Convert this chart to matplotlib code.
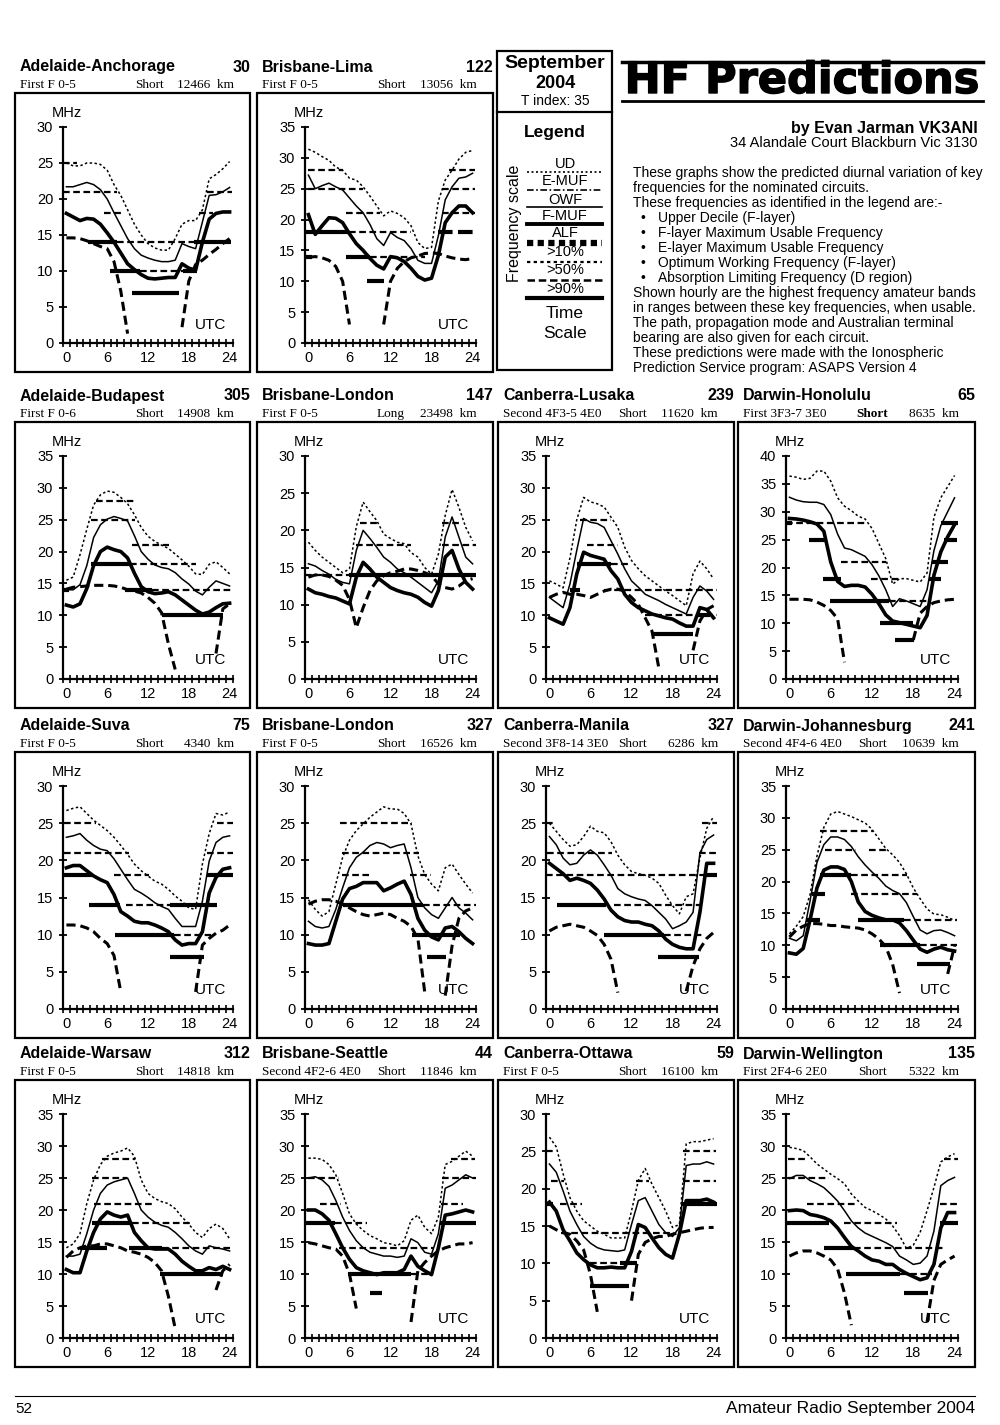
import numpy as np
import matplotlib
matplotlib.use("Agg")
import matplotlib.pyplot as plt
import matplotlib.patheffects as pe
from matplotlib.patches import Rectangle

plt.rcParams['font.family'] = ['Liberation Sans', 'DejaVu Sans']

nan = np.nan
hours = np.arange(25)

anc_ud = [25, 24.6, 24.6, 25, 25, 24.8, 24, 22, 20.5, 18.5, 16.5, 15, 13.8, 13.2, 12.9, 12.9, 14.5, 16.5, 17, 17, 18.5, 22.8, 23.4, 24.2, 25.2]
anc_muf = [21.7, 21.7, 22, 22.3, 22, 21.3, 20, 18.1, 16.3, 14.5, 13.1, 12.2, 11.8, 11.5, 11.3, 11.3, 11.5, 13.8, 13.4, 13.1, 16.8, 20.5, 20.6, 21, 21.6]
anc_owf = [18, 17.5, 17, 17.3, 17.2, 16.5, 15.3, 14, 12.5, 11, 10.2, 9.5, 9, 8.9, 9, 9.1, 9.1, 11, 10.4, 10.1, 14, 17.2, 18, 18.2, 18.2]
anc_alf = [14.6, 14.6, 14.5, 14.2, 13.8, 13.4, 13.1, 11.3, 7.2, 1.3, nan, nan, nan, nan, nan, nan, nan, 2.2, 8.6, 10.9, 11.5, 12.3, 13, 13.8, 14.5]
anc_bands = [(25, -0.5, 1.5, 'm'), (21, -0.5, 7.4, 'm'), (21, 20.7, 24.3, 'm'), (18, 5.5, 8, 'm'),
             (18, 19.5, 21.5, 'm'), (14, 3.2, 7.4, 's'), (14, 7.4, 18.7, 'm'), (14, 18.7, 24.2, 's'),
             (10, 6.4, 10.8, 's'), (10, 10.8, 17.2, 'm'), (10, 17.2, 19.2, 's'), (7, 9.6, 16.5, 's')]

lim_ud = [31.4, 30.9, 30.2, 29.6, 28.5, 28, 26.7, 26.4, 25.3, 23.8, 22.2, 20.6, 21.4, 21, 20.3, 19, 16.3, 15.3, 15.5, 23, 26.4, 28, 29.8, 30.9, 31.2]
lim_muf = [27.2, 25, 25.5, 25.9, 25.3, 24.8, 23.5, 22.2, 21.1, 19.2, 16.9, 15.8, 17.9, 17.1, 16.6, 15.3, 13.4, 12.9, 12.9, 17.4, 23.2, 25.3, 26.7, 26.9, 27.5]
lim_owf = [20.8, 17.6, 19, 20.3, 20.2, 19.5, 17.7, 16.1, 15, 13.7, 12.6, 12, 14, 13.8, 13.2, 12.1, 10.8, 10.2, 10.5, 14.2, 19.5, 21.1, 22.2, 22.2, 21.1]
lim_alf = [13.9, 14, 13.8, 13.4, 12.4, 10, 3, nan, nan, nan, nan, 3, 10, 12.1, 13.2, 13.8, 14.1, 14.5, 14.6, 14.5, 14.1, 13.8, 13.6, 13.5, 13.7]
lim_bands = [(28, 0, 5, 'm'), (28, 20.5, 24.3, 'm'), (25, 0, 8, 'm'), (25, 19.5, 24.3, 'm'),
             (21, 5.5, 10.5, 'm'), (21, 19.5, 24.3, 'm'), (18, -0.5, 6, 's'), (18, 6, 15, 'm'),
             (18, 19, 24.5, 'L'), (14, -0.5, 0.5, 's'), (14, 5.5, 9, 's'), (14, 9, 17, 'm'), (10, 8.5, 11, 's')]

bud_ud = [15.5, 16, 19.5, 23.5, 27.3, 28.9, 29.5, 29.3, 28.5, 27.5, 25.8, 23.8, 22.4, 21.6, 21, 20.5, 19.6, 18.7, 17.7, 16.5, 16.4, 18, 18.4, 17.5, 16.5]
bud_muf = [14, 14, 14.8, 17.8, 22.2, 24.2, 25.1, 25.5, 25.2, 24.8, 22.5, 20, 18.8, 17.9, 17.5, 17.3, 16.7, 15.7, 14.9, 13.8, 13.2, 14.4, 15.4, 15, 14.6]
bud_owf = [11.6, 11.3, 11.8, 14.2, 17.8, 20, 20.7, 20.3, 20, 19, 16.6, 14.5, 13.7, 13.4, 13.5, 13.7, 13.2, 12.4, 11.6, 10.8, 10.2, 10.5, 11.2, 11.8, 11.9]
bud_alf = [14.1, 14.4, 14.5, 14.6, 14.7, 14.7, 14.7, 14.6, 14.4, 14, 13.8, 13.5, 12.8, 11.9, 10.4, 5.5, 1.5, nan, nan, nan, nan, nan, 4, 11, 11.8]
bud_bands = [(28, 4.4, 9.9, 'm'), (25, 3.6, 10.1, 'm'), (21, 9.6, 15.1, 'm'), (18, 3.6, 9.4, 's'),
             (18, 9.4, 19.1, 'm'), (14, -0.5, 0.4, 's'), (14, 8.6, 12.6, 's'), (14, 12.6, 24.5, 'm'),
             (10, 14.1, 23.1, 's')]

lon1_ud = [18.4, 17.3, 16.4, 15.7, 15, 14.3, 14.8, 20.5, 23.8, 22.5, 21.3, 19.5, 18.9, 18.4, 18.2, 17, 16.4, 15, 14.1, 16.8, 22, 25.5, 23.1, 20.4, 18.6]
lon1_muf = [15.5, 15.2, 14.6, 14.1, 13.4, 13, 12.8, 17.3, 20, 18.9, 17.7, 16.4, 15.7, 14.8, 14.3, 13.7, 13, 12.3, 11.6, 13.2, 19.1, 21.8, 19.1, 16.4, 15.5]
lon1_owf = [12.1, 11.6, 11.4, 11.1, 10.9, 10.5, 10.1, 13.7, 15.7, 14.8, 13.7, 13, 12.3, 11.9, 11.6, 11.4, 11, 10.3, 9.8, 11.9, 16.4, 17.3, 14.8, 13, 12.1]
lon1_alf = [13.7, 14, 14, 13.8, 13.3, 12.6, 10.7, 6.9, 9.6, 11.9, 13.2, 13.9, 14.3, 14.5, 14.8, 14.8, 14.6, 14.3, 13.9, 12.8, 12.3, 12.1, 12.5, 13.2, 13.5]
lon1_bands = [(21, 7.5, 10, 'm'), (21, 19.5, 22, 'm'), (18, 7, 15, 'm'), (18, 19.5, 24.5, 'm'),
              (14, -0.5, 6, 'm'), (14, 6, 24.5, 's')]

lus_ud = [15.4, 14.9, 14.3, 19, 25, 28.5, 27.8, 27.5, 27, 25.4, 23.8, 20.7, 18.6, 17.3, 16.2, 15.4, 14.6, 13.8, 13.1, 12.3, 11.5, 16.5, 18.5, 17.3, 15.7]
lus_muf = [12.8, 12, 11.2, 14.9, 20.2, 25.2, 24.6, 24.4, 23.8, 21.7, 19.6, 17.3, 15.4, 14.4, 13.3, 12.8, 12.3, 11.7, 11.2, 10.7, 10.2, 12.8, 14.6, 13.8, 12.5]
lus_owf = [9.6, 9.1, 8.6, 11.2, 16.5, 19.9, 19.4, 19.1, 18.8, 17, 15.7, 13.3, 12, 11.2, 10.7, 10.2, 9.9, 9.6, 9.4, 8.8, 8.3, 8.3, 11.2, 10.9, 9.6]
lus_alf = [12.8, 13.3, 13.6, 13.3, 13.3, 13.1, 12.8, 13.3, 13.8, 14.1, 14.1, 13.8, 12.8, 11.7, 9.6, 7.5, 1.7, nan, nan, nan, nan, 4.5, 9.1, 10.9, 11.5]
lus_bands = [(25, 4.5, 9, 'm'), (21, 5.5, 10, 'm'), (18, 4, 9, 's'), (18, 9, 11.5, 'm'), (14, 3, 4.5, 's'),
             (14, 8, 24.5, 'm'), (10, 14, 24.5, 'm'), (10, 21.5, 23.5, 's'), (7, 15, 21, 's')]

hon_ud = [36.4, 36.2, 35.8, 36, 37.3, 37.3, 35.5, 32.5, 31, 30.2, 29.2, 28.7, 27, 24.3, 21.6, 17, 18, 18, 17.7, 17.4, 19, 29, 32.5, 34.5, 36.5]
hon_muf = [32.6, 32.1, 31.8, 31.7, 31.7, 31.3, 29.5, 26, 23.5, 23.2, 22.6, 22, 20.5, 18.5, 16, 13, 14.4, 14, 13.5, 13, 16, 23, 27.5, 30, 32.5]
hon_owf = [28.8, 28.7, 28.5, 28.2, 27.8, 26.5, 21, 17.5, 16.6, 16.8, 16.8, 16.5, 15.2, 13.5, 11.5, 10.4, 10.1, 9.8, 9.5, 9.2, 11.4, 18.6, 22.8, 25.5, 27.7]
hon_alf = [14.3, 14.3, 14.3, 14.2, 13.8, 13.2, 12.3, 10.8, 3, nan, nan, nan, nan, nan, nan, nan, nan, nan, 7, 11.8, 13, 13.7, 14, 14.2, 14.3]
hon_bands = [(28, -0.5, 11.3, 'm'), (28, -0.5, 0.4, 's'), (28, 22, 24.5, 's'), (25, 2.8, 5.4, 's'),
             (25, 22.4, 24.3, 's'), (21, 7.5, 14.1, 'm'), (21, 20.7, 23.1, 's'), (18, 4.9, 7.5, 's'),
             (18, 11.8, 16, 'm'), (18, 20.3, 22.1, 's'), (14, 5.9, 14.4, 's'), (14, 14.4, 20, 'm'),
             (10, 13.2, 17.9, 's'), (7, 15.3, 18.1, 's')]

suv_ud = [26.7, 27, 27.2, 26.3, 25.4, 24.7, 24, 23.1, 22, 20.8, 19.5, 18.6, 17.9, 17.2, 16.8, 16.1, 15.2, 14.5, 13.6, 13.4, 19.5, 23.6, 26.3, 26.1, 26.5]
suv_muf = [23.1, 23.3, 23.6, 22.7, 22, 21.5, 21.3, 20.2, 18.8, 17.4, 16.1, 15.6, 15, 14.3, 13.8, 13.4, 12.2, 11.1, 11.1, 11.1, 14.5, 19.9, 22.4, 23.1, 23.3]
suv_owf = [19, 19.3, 19.3, 18.6, 17.9, 17.4, 17, 15.4, 13.1, 12.5, 11.8, 11.6, 11.6, 11.3, 10.9, 10.4, 9.3, 8.6, 8.8, 8.8, 10.4, 15.6, 17.7, 18.8, 19]
suv_alf = [11.3, 11.3, 11.2, 10.9, 10.4, 9.5, 8.8, 7.2, 2.3, nan, nan, nan, nan, nan, nan, nan, nan, nan, nan, 2.3, 8.6, 9.5, 10.2, 10.6, 11.3]
suv_bands = [(25, -0.4, 4.3, 'm'), (25, 22.2, 24.5, 'm'), (21, -0.4, 9.2, 'm'), (21, 20.7, 24.5, 'm'),
             (18, -0.5, 3.8, 's'), (18, 7, 12.1, 'm'), (18, 20.7, 24.5, 's'), (14, 3.3, 7.9, 's'),
             (14, 8.7, 15.3, 'm'), (14, 15.3, 22.2, 's'), (10, 7.2, 15.8, 's'), (10, 15.8, 21.2, 'm'),
             (7, 15.3, 20.2, 's')]

lon2_ud = [14.7, 13.4, 12.5, 13.1, 16.8, 20.4, 22.7, 24, 24.9, 25.8, 26.5, 27.2, 26.9, 26.9, 26.3, 24.9, 20.6, 18.1, 16.8, 15.9, 19, 19.5, 18.1, 16.8, 15.6]
lon2_muf = [11.8, 11.1, 10.9, 11.1, 13.4, 16.3, 19, 20.4, 21.1, 22, 22.4, 22.2, 21.7, 22, 22.2, 19, 15, 13.6, 12.7, 12.2, 13.6, 15, 13.6, 12.9, 12]
lon2_owf = [8.8, 8.6, 8.6, 8.8, 11.8, 14.8, 16.2, 16.5, 17, 17, 17, 15.9, 16.3, 16.8, 17.2, 15.4, 12.2, 10.6, 9.7, 9.3, 10.9, 11.1, 10.4, 9.5, 8.8]
lon2_alf = [14.1, 14.5, 14.7, 14.7, 14.5, 14.1, 13.6, 13.1, 12.7, 12.5, 12.7, 12.9, 12.7, 12.2, 11.8, 11.1, 9.5, 2.3, nan, nan, 1.8, 8.5, 12.2, 13.2, 13.6]
lon2_bands = [(25, 4.6, 15.2, 'm'), (21, 4.9, 16.2, 'm'), (18, 4.9, 8.8, 'm'), (18, 14.9, 17.9, 'm'),
              (14, 5.1, 16.7, 's'), (14, 16.7, 24.5, 'm'), (10, 15.2, 22.1, 's'), (7, 17.4, 20.1, 's')]

man_ud = [25, 23.9, 22.8, 21.9, 22.1, 23.2, 24.6, 23.9, 23.7, 22.5, 20.7, 19.4, 18.5, 18.2, 18, 17.6, 16.9, 15.3, 13.9, 12.8, 15.1, 15.5, 20.3, 24.3, 25.9]
man_muf = [23.2, 22.1, 20.3, 19.4, 19.6, 20.7, 21.4, 20.7, 19.4, 18, 16.2, 15.5, 15.1, 14.8, 14.6, 13.9, 13, 12.1, 10.8, 11.2, 11.7, 13, 21, 22.8, 23.4]
man_owf = [19.6, 18.9, 18.2, 17.3, 17.6, 17.3, 16.9, 16, 14.8, 13.3, 12.4, 11.9, 11.7, 11.7, 11.4, 11.2, 10.5, 9.4, 8.7, 8.3, 8.1, 8.1, 13, 19.6, 19.6]
man_alf = [10.5, 11, 11.2, 11.4, 11.2, 11, 10.5, 9.9, 8.7, 6.7, 2.2, nan, nan, nan, nan, nan, nan, nan, nan, nan, 2.4, 5.8, 8.1, 9.5, 10.3]
man_bands = [(25, -0.5, 0.6, 'm'), (25, 22.3, 24.5, 'm'), (21, -0.4, 9.2, 'm'), (21, 21.8, 24.5, 'm'),
             (18, -0.5, 24.5, 'm'), (18, 22.8, 24.5, 's'), (14, 1.1, 8.2, 's'), (14, 9.4, 22.3, 'm'),
             (10, 8, 16.8, 's'), (10, 16.8, 22.5, 'm'), (7, 15.9, 21.8, 's')]

joh_ud = [11.8, 13, 14.5, 18, 24, 28.5, 30.6, 31, 30.6, 30.2, 29.7, 29.2, 28.2, 26.7, 25.2, 24.2, 23, 21.2, 19, 17.3, 15.7, 14.9, 14.8, 14.4, 13.9]
joh_muf = [11.1, 10.7, 11.5, 17, 23, 25.8, 27, 27, 26.6, 25.5, 23.9, 22.6, 21.5, 20.5, 19.3, 18.6, 18.1, 16.7, 14.5, 12.4, 11.8, 12.3, 12.4, 12, 11.5]
joh_owf = [8.8, 8.6, 9.5, 14, 19, 21.8, 22.3, 22.3, 21.9, 20, 16.8, 15.3, 14.7, 14.3, 14, 14, 13.5, 12.3, 10.8, 9.4, 8.9, 9.4, 9.7, 9.3, 9.1]
joh_alf = [11.3, 12.4, 13, 13.4, 13.4, 13.3, 13.1, 13.1, 12.9, 12.8, 12.7, 12.4, 11.8, 11, 9.8, 7, 2.5, nan, nan, nan, nan, nan, nan, 5.5, 9.9]
joh_bands = [(28, 4.5, 12.1, 'm'), (25, 5.2, 9.7, 'm'), (25, 11.6, 14.5, 'm'), (21, 4.5, 9, 's'),
             (21, 9, 17.1, 'm'), (18, 3.3, 5.2, 's'), (18, 9, 18.5, 'm'), (14, 2.4, 4.5, 's'),
             (14, 10, 16.6, 's'), (14, 16.6, 24.3, 'm'), (10, 13.1, 19, 's'), (10, 19, 24.3, 'm'),
             (7, 18.5, 23.3, 's')]

war_ud = [14.1, 14.7, 16.3, 21, 24.7, 27.1, 28.4, 28.9, 29.2, 29.7, 28.4, 24.7, 22.6, 21.8, 21.3, 21, 20.2, 18.9, 17.8, 16.5, 15.7, 17.1, 17.8, 17.1, 15.5]
war_muf = [12.8, 12.8, 13.1, 16.3, 20, 22.6, 23.9, 24.4, 24.7, 25, 22.6, 20, 18.9, 18.1, 17.6, 17.3, 16.5, 15.5, 14.4, 13.6, 13.1, 14.4, 14.1, 13.9, 13.6]
war_owf = [10.7, 10.2, 10.2, 13.6, 16.5, 18.6, 19.7, 19.2, 18.9, 19.2, 16.5, 15.2, 14.1, 13.9, 13.9, 13.9, 13.1, 12, 11.2, 10.5, 10.5, 11, 10.7, 11.2, 10.7]
war_alf = [12.6, 13.6, 14.1, 14.4, 14.4, 14.7, 14.7, 14.4, 14.1, 13.6, 13.4, 13.1, 12.6, 11.8, 10.5, 6.5, 1.5, nan, nan, nan, nan, nan, 7.5, 10.5, 11.5]
war_bands = [(28, 5.2, 10.1, 'm'), (25, 3.8, 8.9, 'm'), (21, 4, 12.8, 'm'), (18, 3.8, 9.6, 's'),
             (18, 9.6, 18.2, 'm'), (14, 2, 6, 's'), (14, 9.2, 14.1, 's'), (14, 14.1, 24.5, 'm'),
             (10, 13.8, 23.1, 's')]

sea_ud = [28.1, 28.1, 27.9, 27.1, 25.5, 22.6, 19.4, 17.8, 16.8, 16, 15.5, 14.9, 14.7, 14.4, 15.2, 18.4, 19.2, 17.3, 16.3, 18.9, 27.1, 27.6, 28.4, 29.2, 28.4]
sea_muf = [25, 25.2, 24.7, 23.7, 21.5, 18.9, 16.8, 15.2, 14.1, 13.4, 13.1, 12.8, 12.8, 12.6, 12.8, 15.5, 14.9, 13.4, 13.1, 16.3, 23.4, 23.9, 24.7, 25.5, 25]
sea_owf = [20, 20, 19.4, 18.4, 16.3, 14.1, 12.3, 11, 10.5, 10.2, 9.9, 10.2, 10.2, 10.2, 10.7, 12.8, 11.2, 10.5, 9.9, 14.1, 19.2, 19.4, 19.7, 20, 19.7]
sea_alf = [14.9, 14.7, 14.4, 14.1, 13.9, 12.8, 10, 4.6, nan, nan, nan, nan, nan, nan, nan, 2.5, 10.5, 11.8, 12.8, 13.6, 14.1, 14.4, 14.7, 14.7, 14.9]
sea_bands = [(28, 20.9, 24.3, 'm'), (25, 0, 4.4, 'm'), (25, 19.6, 24.5, 'm'), (21, 1.7, 4.8, 'm'),
             (21, 19.4, 22.6, 'm'), (18, -0.5, 3.9, 's'), (18, 3.9, 8.5, 'm'), (18, 19.2, 24.5, 's'),
             (14, 4.4, 18.2, 'm'), (10, 5.8, 15, 's'), (10, 15, 18.2, 'm'), (7, 9, 10.7, 's')]

ott_ud = [26.9, 25.6, 22, 18.8, 17, 15.7, 15, 14.3, 13.9, 13.4, 13.4, 13.4, 17, 21.1, 22.7, 20.6, 18.8, 17, 14.8, 15.2, 26, 26.3, 26.3, 26.5, 26.7]
ott_muf = [23.3, 22.2, 19.7, 17, 15.2, 13.6, 12.7, 12.1, 11.8, 11.7, 11.6, 11.8, 15.2, 18.4, 18.8, 17, 15.2, 14.1, 13.6, 14.8, 23.1, 23.3, 23.3, 23.6, 23.3]
ott_owf = [18.2, 17, 14.5, 13, 11.4, 10.5, 9.8, 9.4, 9.4, 9.5, 9.4, 9.4, 11.6, 15.2, 14.8, 13.4, 12.1, 11.2, 10.7, 13.9, 18.4, 18.4, 18.4, 18.6, 18.2]
ott_alf = [15, 14.5, 14.1, 13.9, 13, 11.8, 8.5, 3.5, nan, nan, nan, nan, 5, 11.2, 12.8, 13.3, 13.6, 13.6, 13.9, 14.1, 14.3, 14.5, 14.7, 14.8, 14.8]
ott_bands = [(25, -0.5, 1, 'm'), (25, 19.5, 24.4, 'm'), (21, 0.2, 2.2, 'm'), (21, 12.6, 14.5, 'm'),
             (21, 19.5, 24.4, 'm'), (18, -0.5, 0.5, 's'), (18, 1.5, 4.7, 'm'), (18, 19.2, 24.5, 's'),
             (14, 1.7, 18.2, 'm'), (10, 5.9, 10.3, 'm'), (10, 10.3, 12.8, 's'), (7, 5.9, 11.6, 's')]

wel_ud = [29.8, 29.6, 29.3, 28.3, 27.2, 26.4, 25.6, 24.9, 24.1, 22.5, 21.4, 20.4, 19.9, 19.3, 18.6, 17.5, 16, 14, 14.5, 16.5, 19.9, 23.5, 27.5, 28.3, 28.8]
wel_muf = [24.9, 25.4, 25.4, 24.6, 24.1, 23.5, 22.5, 21.4, 19.9, 18.3, 17.2, 16.4, 15.9, 15.4, 14.9, 14.3, 12.8, 12.2, 11.5, 11.7, 12.8, 16.7, 23.8, 24.6, 25.1]
wel_owf = [19.9, 20, 19.9, 19.3, 19.1, 18.8, 18.3, 17.2, 15.7, 14.3, 13.6, 12.8, 12.2, 12, 11.5, 11.5, 10.7, 10.1, 9.6, 9.1, 9.4, 11.5, 17.2, 19.6, 19.6]
wel_alf = [12.8, 13.3, 13.6, 13.6, 13.3, 12.8, 12.2, 10.8, 7, 2, nan, nan, nan, nan, nan, nan, nan, nan, nan, nan, 2.5, 9, 11.5, 12.2, 12.8]
wel_bands = [(28, -0.2, 2.2, 'm'), (28, 22.4, 24.5, 'm'), (25, -0.2, 5.8, 'm'), (21, 2.6, 9.6, 'm'),
             (21, 21.9, 24.3, 'm'), (18, -0.5, 5.8, 's'), (18, 7.9, 15.6, 'm'), (18, 21.9, 24.5, 's'),
             (14, 5, 9.4, 's'), (14, 9.4, 22.4, 'm'), (10, 8.2, 16.1, 's'), (10, 16.1, 20.7, 'm'),
             (7, 16.6, 20.2, 's')]

circuits = ["Adelaide-Anchorage", "Brisbane-Lima", "Adelaide-Budapest", "Brisbane-London",
            "Canberra-Lusaka", "Darwin-Honolulu", "Adelaide-Suva", "Brisbane-London",
            "Canberra-Manila", "Darwin-Johannesburg", "Adelaide-Warsaw", "Brisbane-Seattle",
            "Canberra-Ottawa", "Darwin-Wellington"]
bearings = [30, 122, 305, 147, 239, 65, 75, 327, 327, 241, 312, 44, 59, 135]
modes = ["First F 0-5", "First F 0-5", "First F 0-6", "First F 0-5", "Second 4F3-5 4E0",
         "First 3F3-7 3E0", "First F 0-5", "First F 0-5", "Second 3F8-14 3E0", "Second 4F4-6 4E0",
         "First F 0-5", "Second 4F2-6 4E0", "First F 0-5", "First 2F4-6 2E0"]
paths = ["Short", "Short", "Short", "Long", "Short", "Short", "Short", "Short", "Short", "Short",
         "Short", "Short", "Short", "Short"]
distances = [12466, 13056, 14908, 23498, 11620, 8635, 4340, 16526, 6286, 10639, 14818, 11846, 16100, 5322]
ymaxes = [30, 35, 35, 30, 35, 40, 30, 30, 30, 35, 35, 35, 30, 35]

series = [(anc_ud, anc_muf, anc_owf, anc_alf, anc_bands), (lim_ud, lim_muf, lim_owf, lim_alf, lim_bands),
          (bud_ud, bud_muf, bud_owf, bud_alf, bud_bands), (lon1_ud, lon1_muf, lon1_owf, lon1_alf, lon1_bands),
          (lus_ud, lus_muf, lus_owf, lus_alf, lus_bands), (hon_ud, hon_muf, hon_owf, hon_alf, hon_bands),
          (suv_ud, suv_muf, suv_owf, suv_alf, suv_bands), (lon2_ud, lon2_muf, lon2_owf, lon2_alf, lon2_bands),
          (man_ud, man_muf, man_owf, man_alf, man_bands), (joh_ud, joh_muf, joh_owf, joh_alf, joh_bands),
          (war_ud, war_muf, war_owf, war_alf, war_bands), (sea_ud, sea_muf, sea_owf, sea_alf, sea_bands),
          (ott_ud, ott_muf, ott_owf, ott_alf, ott_bands), (wel_ud, wel_muf, wel_owf, wel_alf, wel_bands)]

legend_labels = ["UD", "E-MUF", "OWF", "F-MUF", "ALF", ">10%", ">50%", ">90%"]
notes = ["These graphs show the predicted diurnal variation of key",
         "frequencies for the nominated circuits.",
         "These frequencies as identified in the legend are:-",
         "\u2022Upper Decile (F-layer)",
         "\u2022F-layer Maximum Usable Frequency",
         "\u2022E-layer Maximum Usable Frequency",
         "\u2022Optimum Working Frequency (F-layer)",
         "\u2022Absorption Limiting Frequency (D region)",
         "Shown hourly are the highest frequency amateur bands",
         "in ranges between these key frequencies, when usable.",
         "The path, propagation mode and Australian terminal",
         "bearing are also given for each circuit.",
         "These predictions were made with the Ionospheric",
         "Prediction Service program: ASAPS Version 4"]

W, H = 1000, 1425
fig = plt.figure(figsize=(10, 14.25), dpi=100)
fig.patch.set_facecolor('white')


def fx(x):
    return x / W


def fy(y):
    return 1 - y / H


def frame(x0, y0, x1, y1, lw=1.6):
    fig.patches.append(Rectangle((fx(x0), fy(y1)), (x1 - x0) / W, (y1 - y0) / H,
                                 transform=fig.transFigure, fill=False, lw=lw, ec='black'))


def hline(x0, x1, y, **kw):
    fig.add_artist(plt.Line2D([fx(x0), fx(x1)], [fy(y), fy(y)], transform=fig.transFigure,
                              color='black', **kw))


band_style = {'m': dict(lw=1.6, ls=(0, (3, 1.6))),
              's': dict(lw=3.0, ls='-'),
              'L': dict(lw=3.0, ls=(0, (3.5, 1.3)))}

serif = ['Liberation Serif', 'DejaVu Serif']


def draw_chart(k, bx0, by0, bx1, by1):
    ud, muf, owf, alf, bands = series[k]
    frame(bx0, by0, bx1, by1)
    fig.text(fx(bx0 + 5), fy(by0 - 26), circuits[k], fontsize=11.5, fontweight='bold', ha='left', va='center')
    fig.text(fx(bx1), fy(by0 - 26), str(bearings[k]), fontsize=11.5, fontweight='bold', ha='right', va='center')
    fig.text(fx(bx0 + 5), fy(by0 - 8), modes[k], family=serif, fontsize=9.5, ha='left', va='center')
    fig.text(fx(bx0 + 134), fy(by0 - 8), paths[k], family=serif, fontsize=9.5, ha='center', va='center',
             fontweight='bold' if k == 5 else 'normal')
    fig.text(fx(bx1 - 16), fy(by0 - 8), f"{distances[k]}  km", family=serif, fontsize=9.5,
             ha='right', va='center')

    left, right = bx0 + 48, bx1 - 17
    top, bottom = by0 + 34, by1 - 29
    ax = fig.add_axes([fx(left), fy(bottom), (right - left) / W, (bottom - top) / H])
    ax.patch.set_visible(False)
    ax.set_xlim(-0.5, 24.5)
    ax.set_ylim(0, ymaxes[k])
    for s in ('top', 'right'):
        ax.spines[s].set_visible(False)
    for s in ('left', 'bottom'):
        ax.spines[s].set_linewidth(1.6)

    for lvl, h0, h1, kind in bands:
        ax.plot([h0, h1], [lvl, lvl], color='black', solid_capstyle='butt',
                dash_capstyle='butt', **band_style[kind])
    ax.plot(hours, ud, color='black', lw=1.1, ls=(0, (1.6, 1.6)))
    ax.plot(hours, muf, color='black', lw=1.1)
    ax.plot(hours, owf, color='black', lw=2.6)
    ax.plot(hours, alf, color='black', lw=2.2, ls=(0, (3, 1.6)))

    ax.set_xticks([0, 6, 12, 18, 24])
    ax.set_xticks(np.arange(-0.5, 25, 1), minor=True)
    ax.tick_params(axis='x', which='major', length=0, pad=6, labelsize=10.5)
    ax.tick_params(axis='x', which='minor', direction='inout', length=6, width=1.2)
    ax.set_yticks(np.arange(0, ymaxes[k] + 1, 5))
    ax.tick_params(axis='y', direction='inout', length=6, width=1.3, pad=4, labelsize=10.5)

    ax.annotate('MHz', xy=(0, 1), xycoords='axes fraction', xytext=(3, 10),
                textcoords='offset points', ha='center', va='center', fontsize=10.5)
    ax.text(0.87, 0.085, 'UTC', transform=ax.transAxes, ha='center', va='center', fontsize=11)


cols = [(15, 250), (257, 493), (498, 734), (738, 975)]
rows = [(93, 372), (422, 708), (752, 1038), (1080, 1367)]
slots = [(0, 0), (0, 1)] + [(r, c) for r in (1, 2, 3) for c in range(4)]
for k, (r, c) in enumerate(slots):
    draw_chart(k, cols[c][0], rows[r][0], cols[c][1], rows[r][1])

# legend box
frame(497, 51, 612, 370)
hline(497, 612, 112, lw=1.6)
fig.text(fx(555), fy(64), "September", fontsize=14, fontweight='bold', ha='center', va='center')
fig.text(fx(555), fy(83), "2004", fontsize=13, fontweight='bold', ha='center', va='center')
fig.text(fx(555), fy(101), "T index: 35", fontsize=10, ha='center', va='center')
fig.text(fx(555), fy(132), "Legend", fontsize=12.5, fontweight='bold', ha='center', va='center')
fig.text(fx(514), fy(223), "Frequency scale", fontsize=11.5, rotation=90, ha='center', va='center')
legend_styles = [dict(lw=1.2, ls=(0, (1.2, 1.5))), dict(lw=1.2, ls=(0, (4, 1.5, 1, 1.5))),
                 dict(lw=1.2, ls='-'), dict(lw=2.8, ls='-'), dict(lw=4.5, ls=(0, (1, 0.7))),
                 dict(lw=1.6, ls=(0, (1.5, 1.5))), dict(lw=1.8, ls=(0, (3, 1.5))), dict(lw=3, ls='-')]
label_y = [164, 181, 200, 216, 233, 252, 270, 289]
line_y = [172, 190, 207, 224, 243, 262, 280, 298]
for lab, ly, sy, st in zip(legend_labels, label_y, line_y, legend_styles):
    fig.text(fx(565), fy(ly), lab, fontsize=10.5, ha='center', va='center')
    hline(527, 602, sy, **st)
fig.text(fx(565), fy(313), "Time", fontsize=12.5, ha='center', va='center')
fig.text(fx(565), fy(334), "Scale", fontsize=12.5, ha='center', va='center')

# heading block
hline(622, 983, 62, lw=2.5)
hline(622, 983, 101, lw=2.0)
fig.text(fx(802), fy(81), "HF Predictions", family=['DejaVu Sans'], fontsize=31, fontweight='bold',
         ha='center', va='center',
         path_effects=[pe.withStroke(linewidth=1.0, foreground='black')])
fig.text(fx(978), fy(128), "by Evan Jarman VK3ANI", fontsize=11.5, fontweight='bold', ha='right', va='center')
fig.text(fx(978), fy(143), "34 Alandale Court Blackburn Vic 3130", fontsize=10.5, ha='right', va='center')
for i, line in enumerate(notes):
    y = 173 + 15 * i
    if line.startswith("\u2022"):
        fig.text(fx(643), fy(y), "\u2022", fontsize=10, ha='center', va='center')
        fig.text(fx(658), fy(y), line[1:], fontsize=10, ha='left', va='center')
    else:
        fig.text(fx(633), fy(y), line, fontsize=10, ha='left', va='center')

# footer
hline(15, 975, 1396, lw=0.8)
fig.text(fx(15), fy(1409), "52", fontsize=11, ha='left', va='center')
fig.text(fx(975), fy(1409), "Amateur Radio September 2004", fontsize=12.5, ha='right', va='center')

fig.savefig("out.png", dpi=100)
